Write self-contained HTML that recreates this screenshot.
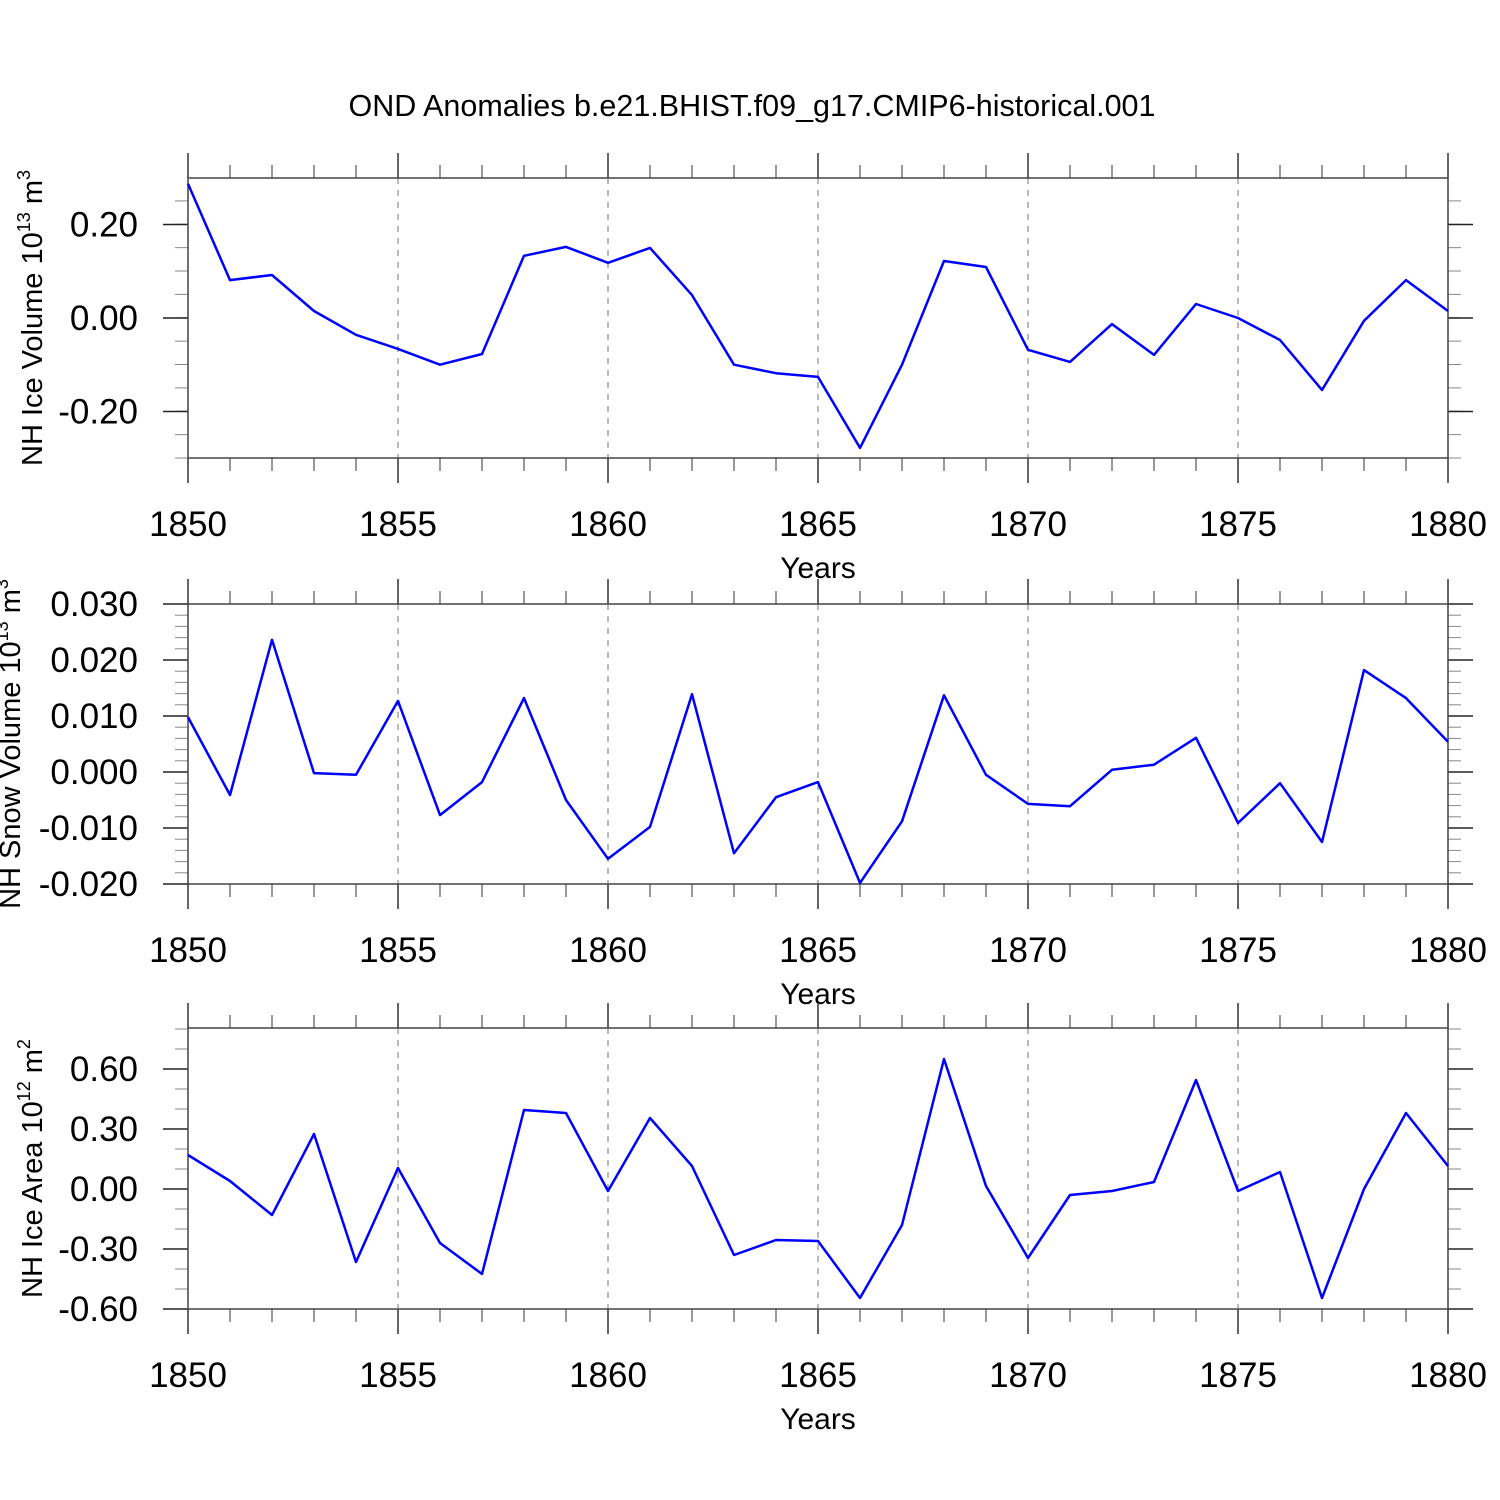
<!DOCTYPE html>
<html><head><meta charset="utf-8"><style>
body{margin:0;background:#fff;}
svg{display:block;font-family:"Liberation Sans",sans-serif;}
</style></head><body>
<svg id="chart" width="1500" height="1500" xmlns="http://www.w3.org/2000/svg">
<text x="752" y="116" text-anchor="middle" font-size="30.5">OND Anomalies b.e21.BHIST.f09_g17.CMIP6-historical.001</text>
</svg>
<script>
const years = [1850,1851,1852,1853,1854,1855,1856,1857,1858,1859,1860,1861,1862,1863,1864,1865,1866,1867,1868,1869,1870,1871,1872,1873,1874,1875,1876,1877,1878,1879,1880];
const xTicks = [1850,1855,1860,1865,1870,1875,1880];
const iceVolume = [0.287,0.081,0.092,0.015,-0.036,-0.066,-0.100,-0.077,0.133,0.152,0.118,0.150,0.049,-0.100,-0.118,-0.126,-0.278,-0.100,0.122,0.109,-0.068,-0.094,-0.013,-0.079,0.030,0.000,-0.047,-0.154,-0.006,0.081,0.015];
const snowVolume = [0.0098,-0.0041,0.0236,-0.0002,-0.0005,0.0127,-0.0077,-0.0018,0.0132,-0.0050,-0.0155,-0.0098,0.0139,-0.0145,-0.0045,-0.0018,-0.0198,-0.0088,0.0137,-0.0005,-0.0057,-0.0061,0.0004,0.0013,0.0061,-0.0091,-0.0020,-0.0125,0.0182,0.0132,0.0054];
const iceArea = [0.17,0.04,-0.13,0.275,-0.365,0.105,-0.27,-0.425,0.395,0.38,-0.01,0.355,0.115,-0.33,-0.255,-0.26,-0.545,-0.18,0.65,0.015,-0.345,-0.03,-0.01,0.035,0.545,-0.01,0.085,-0.545,0.0,0.38,0.115];
const iceVolTicks = ["-0.20","0.00","0.20"];
const snowTicks = ["-0.020","-0.010","0.000","0.010","0.020","0.030"];
const areaTicks = ["-0.60","-0.30","0.00","0.30","0.60"];

const NS="http://www.w3.org/2000/svg";
const svg=document.getElementById('chart');
function mk(tag,attrs,parent){const e=document.createElementNS(NS,tag);for(const k in attrs)e.setAttribute(k,attrs[k]);(parent||svg).appendChild(e);return e;}

const X0=188,X1=1448;
function xs(v){return X0+(v-1850)/(1880-1850)*(X1-X0);}

function panel(name,top,bot,ymin,ymax,minorStep,ticks,data,ylabelParts,labelX){
  const g=mk('g',{});
  
  
  const ys=v=>bot-(v-ymin)/(ymax-ymin)*(bot-top);
  xTicks.slice(1,-1).forEach(t=>{const l=mk('line',{x1:xs(t),x2:xs(t),y1:top,y2:bot,stroke:'#777','stroke-width':1,'stroke-dasharray':'6,6'},g);
    
    });
  for(let y=1850;y<=1880;y++){const maj=(y%5===0);const len=maj?25:13;
    mk('line',{x1:xs(y),x2:xs(y),y1:top-len,y2:top,stroke:'#333','stroke-width':maj?1.5:1},g);
    mk('line',{x1:xs(y),x2:xs(y),y1:bot,y2:bot+len,stroke:'#333','stroke-width':maj?1.5:1},g);}
  const n=Math.round((ymax-ymin)/minorStep);
  for(let i=0;i<=n;i++){const v=ymin+i*minorStep;if(v>ymax+1e-9)break;const y=ys(v);
    mk('line',{x1:X0-13,x2:X0,y1:y,y2:y,stroke:'#888','stroke-width':1},g);
    mk('line',{x1:X1,x2:X1+13,y1:y,y2:y,stroke:'#888','stroke-width':1},g);}
  ticks.forEach(t=>{const y=ys(parseFloat(t));
    mk('line',{x1:X0-25,x2:X0,y1:y,y2:y,stroke:'#222','stroke-width':1.5},g);
    mk('line',{x1:X1,x2:X1+25,y1:y,y2:y,stroke:'#222','stroke-width':1.5},g);
    const tx=mk('text',{x:X0-50,y:y+12,'text-anchor':'end','font-size':35},g);tx.textContent=t;
    
    });
  const fr=mk('rect',{x:X0,y:top,width:X1-X0,height:bot-top,fill:'none',stroke:'#444','stroke-width':1.5},g);
  
  
  xTicks.forEach(t=>{const tx=mk('text',{x:xs(t),y:bot+78,'text-anchor':'middle','font-size':35},g);tx.textContent=t;
    
    });
  const xt=mk('text',{x:818,y:bot+120,'text-anchor':'middle','font-size':30},g);xt.textContent='Years';
  
  
  const mid=(top+bot)/2;
  const yt=mk('text',{x:labelX,y:mid,'text-anchor':'middle','font-size':29,transform:'rotate(-90 '+labelX+' '+mid+')'},g);
  
  
  ylabelParts.forEach(p=>{const s=mk('tspan',{},yt);s.textContent=p[0];if(p[1]==='sup'){s.setAttribute('font-size','18');s.setAttribute('dy','-12');}else if(p[1]==='after'){s.setAttribute('dy','12');}});
  const pts=data.map((v,i)=>xs(years[i]).toFixed(1)+','+ys(v).toFixed(1)).join(' ');
  const pl=mk('polyline',{points:pts,fill:'none',stroke:'#0000ff','stroke-width':2.5,'stroke-linejoin':'round'},g);
  
  
}
panel('ice-volume',178,458,-0.2995,0.2995,0.05,iceVolTicks,iceVolume,[['NH Ice Volume 10'],['13','sup'],[' m','after'],['3','sup']],42);
panel('snow-volume',604,884,-0.020,0.030,0.002,snowTicks,snowVolume,[['NH Snow Volume 10'],['13','sup'],[' m','after'],['3','sup']],20);
panel('ice-area',1028,1309,-0.60,0.805,0.1,areaTicks,iceArea,[['NH Ice Area 10'],['12','sup'],[' m','after'],['2','sup']],42);
</script>
</body></html>
